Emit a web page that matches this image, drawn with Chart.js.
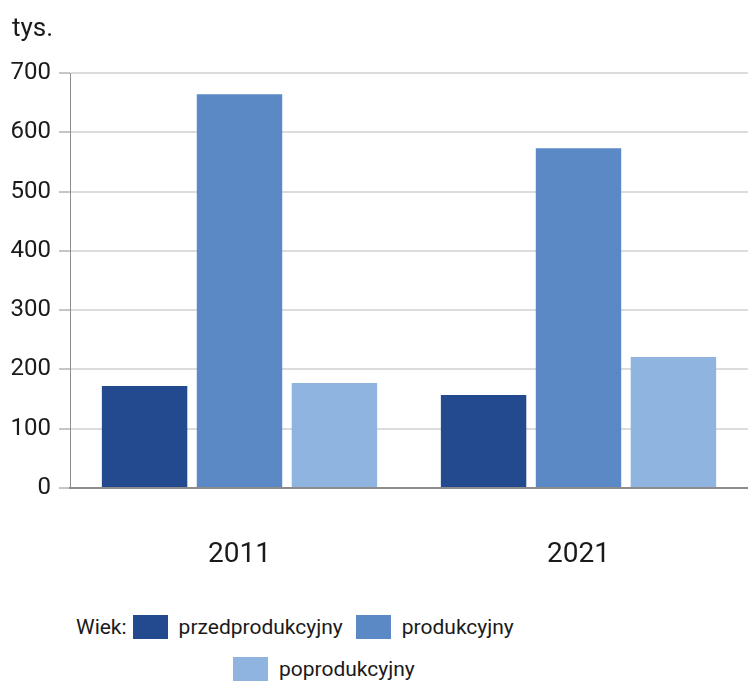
<!DOCTYPE html>
<html><head><meta charset="utf-8">
<script src="https://cdn.jsdelivr.net/npm/chart.js@4.4.1/dist/chart.umd.min.js"></script>
<style>
html,body{margin:0;padding:0;background:#fff;}
#wrap{position:relative;width:748px;height:683px;font-family:Roboto,"Noto Sans",sans-serif;color:#1a1a1a;}
#unit{position:absolute;left:12px;top:12px;font-size:26px;}
#legend{position:absolute;left:0;top:604px;width:748px;font-size:21px;}
.row{position:absolute;white-space:nowrap;display:flex;align-items:center;height:30px;}
.box{display:inline-block;width:35px;height:24px;margin-right:11px;}
</style></head>
<body>
<div id="wrap">
<canvas id="c" width="748" height="600" style="position:absolute;left:0;top:0;width:748px;height:600px;"></canvas>
<div id="unit">tys.</div>
<div id="legend"></div>
</div>
<script>
const categories = ["2011", "2021"];
const seriesNames = ["przedprodukcyjny", "produkcyjny", "poprodukcyjny"];
const przedprodukcyjny = [172, 157];
const produkcyjny = [664, 573];
const poprodukcyjny = [177, 221];
const yTicks = [0, 100, 200, 300, 400, 500, 600, 700];
const colors = ["#23498f", "#5b89c6", "#8fb4e0"];
const legendTitle = "Wiek:";

const values = [przedprodukcyjny, produkcyjny, poprodukcyjny];
const FONT = "Roboto, 'Noto Sans', sans-serif";

const chart = new Chart(document.getElementById('c'), {
  type: 'bar',
  data: {
    labels: categories,
    datasets: seriesNames.map((n, i) => ({
      label: n, data: values[i], backgroundColor: colors[i],
      borderWidth: 0, categoryPercentage: 0.84, barPercentage: 0.9
    }))
  },
  options: {
    responsive: false, animation: false,
    layout: { padding: { top: 73, right: 0, left: 0, bottom: 0 } },
    plugins: { legend: { display: false }, tooltip: { enabled: false } },
    scales: {
      x: {
        grid: { display: false, drawTicks: false },
        border: { color: '#8c8c8c', width: 2 },
        ticks: { color: '#1a1a1a', font: { family: FONT, size: 28 }, padding: 50 },
        afterFit: s => { s.height = 112; }
      },
      y: {
        min: 0, max: 700,
        afterBuildTicks: s => { s.ticks = yTicks.map(v => ({ value: v })); },
        grid: { color: '#dcdcdc', lineWidth: 2, tickLength: 11, tickColor: '#8c8c8c', tickWidth: 1 },
        border: { color: '#8c8c8c', width: 1 },
        ticks: { color: '#1a1a1a', font: { family: FONT, size: 24 }, padding: 8 },
        afterFit: s => { s.width = 70; }
      }
    }
  }
});

// legend
const lg = document.getElementById('legend');
function item(i) {
  return '<span class="box" style="background:' + colors[i] + '"></span><span style="margin-right:13px">' + seriesNames[i] + '</span>';
}
lg.innerHTML =
  '<div class="row" style="left:76px;top:8px"><span style="margin-right:6px">' + legendTitle + '</span>' + item(0) + item(1) + '</div>' +
  '<div class="row" style="left:233px;top:50px">' + item(2) + '</div>';
</script>
</body></html>
